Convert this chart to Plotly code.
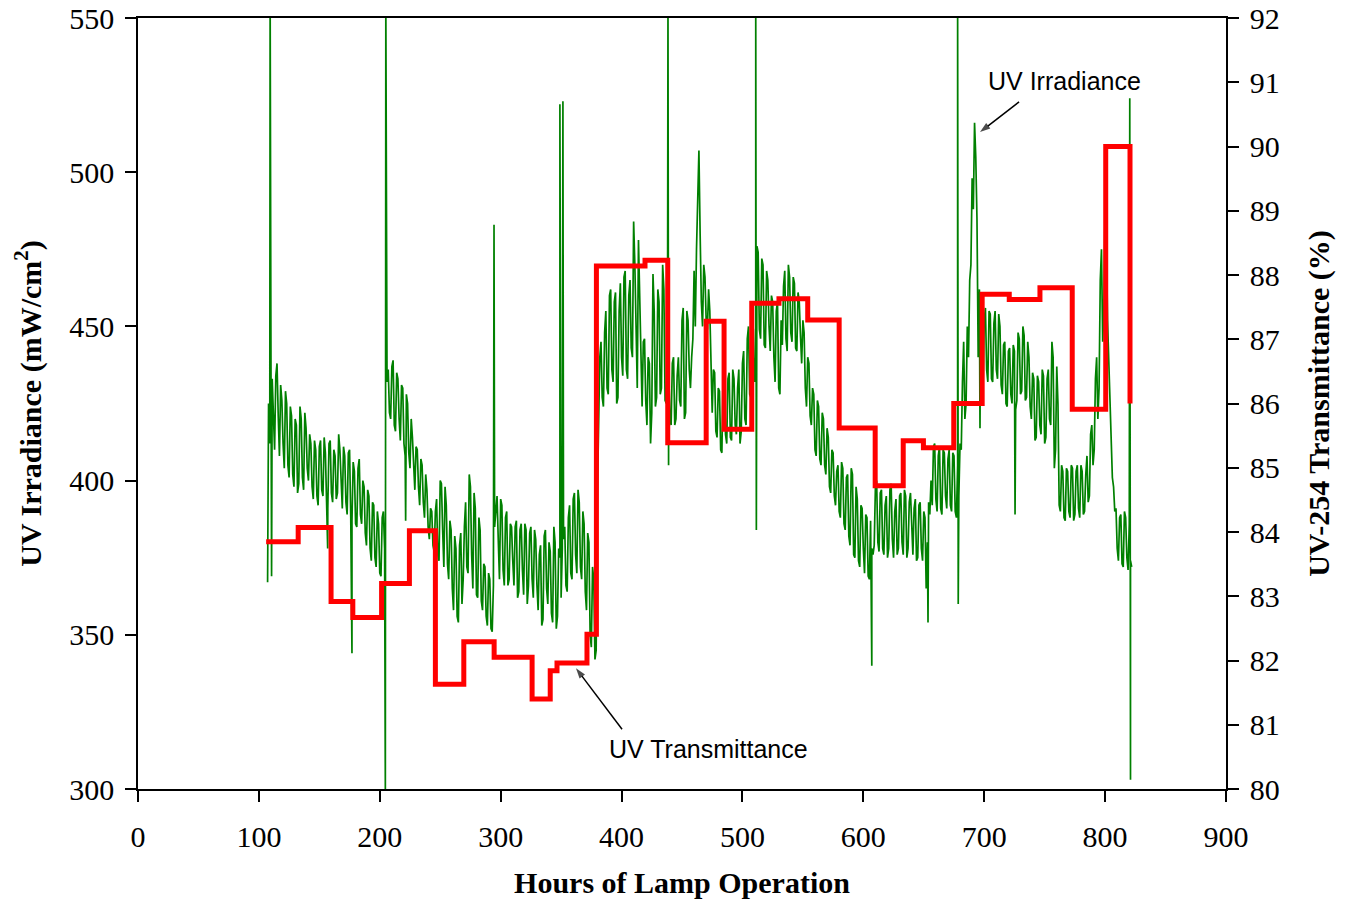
import plotly.graph_objects as go

# ---------------- data ----------------
# UV irradiance (mW/cm2) read at even hours, starting at 108 h
irr_even_start = 108
irradiance_even = [
    425, 437, 418, 434, 421, 431, 412, 429, 405, 424,   # 108-126
    402, 420, 396, 424, 401, 422, 404, 415, 398, 413,   # 128-146
    395, 411, 397, 414, 393, 412, 396, 410, 394, 415,   # 148-166
    397, 411, 393, 409, 388, 406, 386, 404, 389, 400,   # 168-186
    383, 397, 378, 393, 375, 390, 370, 388, 378, 432,   # 188-206
    422, 437, 418, 435, 420, 431, 412, 428, 409, 420,   # 208-226
    404, 411, 398, 407, 393, 402, 385, 391, 379, 390,   # 228-246
    376, 400, 384, 398, 373, 387, 365, 382, 356, 379,   # 248-266
    360, 385, 372, 402, 376, 396, 363, 388, 361, 373,   # 268-286
    356, 370, 352, 366, 390, 381, 394, 371, 388, 366,   # 288-306
    386, 374, 385, 362, 384, 371, 386, 360, 383, 368,   # 308-326
    384, 366, 376, 353, 382, 365, 380, 357, 385, 352,   # 328-346
    378, 362, 381, 366, 388, 370, 394, 376, 397, 372,   # 348-366
    390, 364, 383, 350, 372, 342, 395, 440, 427, 448,   # 368-386
    430, 460, 436, 458, 425, 455, 440, 466, 436, 460,   # 388-406
    443, 484, 448, 478, 435, 445, 426, 440, 412, 467,   # 408-426
    424, 462, 428, 470, 426, 440, 420, 438, 418, 434,   # 428-446
    426, 452, 420, 455, 436, 440, 468, 475, 507, 458,   # 448-466
    470, 452, 462, 432, 436, 416, 430, 410, 435, 415,   # 468-486
    433, 414, 436, 418, 430, 412, 438, 420, 446, 428,   # 488-506
    452, 432, 476, 449, 472, 444, 468, 450, 460, 440,   # 508-526
    455, 430, 452, 463, 446, 470, 448, 466, 443, 461,   # 528-546
    447, 452, 430, 440, 421, 430, 410, 426, 407, 422,   # 548-566
    405, 417, 398, 410, 395, 403, 390, 406, 386, 401,   # 568-586
    382, 404, 376, 398, 374, 392, 378, 389, 369, 387,   # 588-606
    376, 398, 380, 396, 378, 392, 375, 397, 381, 390,   # 608-626
    376, 395, 380, 397, 375, 393, 383, 391, 374, 392,   # 628-646
    378, 390, 365, 393, 400, 411, 394, 408, 391, 410,   # 648-666
    395, 407, 392, 409, 390, 405, 412, 432, 420, 450,   # 668-686
    465, 498, 516, 485, 462, 432, 452, 436, 455, 433,   # 688-706
    451, 436, 454, 431, 444, 425, 442, 428, 444, 423,   # 708-726
    448, 428, 450, 426, 445, 424, 435, 413, 434, 418,   # 728-746
    436, 412, 433, 420, 445, 404, 437, 392, 405, 388,   # 748-766
    404, 390, 405, 387, 403, 391, 405, 389, 402, 393,   # 768-786
    415, 405, 433, 420, 465, 445, 490, 452, 425, 401,   # 788-806
    390, 378, 388, 373, 390, 375, 386, 372,             # 808-822
]

# UV irradiance (mW/cm2) read at odd hours, starting at 109 h
irr_odd_start = 109
irradiance_odd = [
    412, 433, 410, 438, 408, 426, 404, 425, 401, 421,   # 109-127
    398, 418, 399, 420, 397, 417, 400, 412, 394, 410,   # 129-147
    392, 413, 395, 409, 391, 413, 393, 408, 396, 410,   # 149-167
    391, 408, 389, 410, 387, 403, 385, 407, 386, 398,   # 169-187
    379, 395, 374, 392, 372, 386, 369, 390, 425, 436,   # 189-207
    420, 439, 416, 433, 413, 430, 408, 425, 404, 414,   # 209-227
    397, 410, 392, 405, 388, 397, 381, 390, 377, 394,   # 229-247
    374, 399, 372, 392, 368, 384, 358, 378, 354, 383,   # 249-267
    368, 393, 370, 398, 365, 391, 362, 384, 358, 372,   # 269-287
    353, 368, 351, 385, 395, 368, 392, 366, 390, 368,   # 289-307
    385, 366, 387, 364, 386, 363, 384, 366, 385, 362,   # 309-327
    381, 358, 379, 355, 384, 360, 377, 354, 380, 356,   # 329-347
    375, 378, 385, 364, 392, 368, 396, 370, 393, 368,   # 349-367
    386, 358, 380, 346, 368, 345, 425, 445, 424, 455,   # 369-387
    428, 462, 432, 461, 427, 464, 434, 468, 433, 465,   # 389-407
    440, 470, 430, 460, 424, 446, 418, 438, 422, 455,   # 409-427
    427, 458, 430, 462, 425, 436, 418, 440, 420, 440,   # 429-447
    424, 456, 422, 452, 430, 446, 450, 490, 480, 450,   # 449-467
    466, 449, 455, 422, 435, 414, 429, 409, 434, 412,   # 469-487
    435, 413, 433, 415, 436, 416, 442, 418, 450, 427,   # 489-507
    449, 440, 474, 446, 470, 443, 465, 442, 458, 432,   # 509-527
    458, 428, 444, 468, 442, 466, 445, 464, 442, 458,   # 529-547
    438, 448, 424, 438, 418, 428, 408, 424, 405, 420,   # 549-567
    402, 414, 396, 409, 392, 405, 388, 404, 384, 402,   # 569-587
    379, 402, 375, 394, 372, 391, 370, 388, 368, 378,   # 589-607
    379, 400, 377, 397, 376, 395, 378, 399, 375, 394,   # 609-627
    378, 396, 376, 395, 378, 396, 376, 394, 375, 393,   # 629-647
    374, 388, 380, 389, 392, 412, 390, 411, 389, 409,   # 649-667
    391, 410, 390, 408, 388, 395, 410, 445, 425, 440,   # 669-687
    470, 488, 505, 440, 455, 430, 456, 432, 454, 432,   # 689-707
    455, 433, 450, 428, 445, 424, 443, 425, 442, 426,   # 709-727
    446, 429, 447, 427, 440, 420, 433, 414, 432, 415,   # 729-747
    434, 414, 436, 418, 440, 410, 425, 390, 403, 387,   # 749-767
    403, 388, 404, 389, 405, 388, 403, 390, 408, 395,   # 769-787
    418, 410, 440, 430, 475, 455, 480, 440, 415, 398,   # 789-807
    391, 374, 389, 372, 388, 371, 374,                  # 809-821
]

# isolated single-sample spikes (hour, value)
spike_hours = [107.2, 109.3, 110.5, 156.9, 177.0, 204.6, 205.0, 221.4,
               294.5, 349.0, 351.5, 438.4, 438.9, 511.0, 511.5, 607.0,
               653.5, 678.0, 678.5, 696.5, 725.5, 820.4, 821.0]
spike_values = [367, 560, 369, 378, 344, 299, 556, 387,
                483, 522, 523, 556, 405, 556, 384, 340,
                354, 556, 360, 417, 389, 524, 303]

# UV-254 transmittance (%) step changes: hour at which each level starts
trans_hours = [106, 132.5, 159.7, 177.7, 201.5, 224.5, 246, 269.5, 294.6, 326,
               341, 346.6, 371.4, 379.2, 419.4, 438.2, 470, 484.8, 507.7, 530.2,
               554, 580, 609.8, 633, 649.7, 674.8, 698.3, 720.7, 746.1, 772.8,
               800.5, 820.6]
trans_values = [83.85, 84.07, 82.92, 82.67, 83.20, 84.02, 81.63, 82.29, 82.05, 81.40,
                81.84, 81.96, 82.41, 88.14, 88.23, 85.39, 87.28, 85.60, 87.56, 87.63,
                87.30, 85.62, 84.72, 85.42, 85.31, 86.00, 87.70, 87.62, 87.80, 85.91,
                90.00, 86.00]

x_ticks = [0, 100, 200, 300, 400, 500, 600, 700, 800, 900]
y_ticks = [300, 350, 400, 450, 500, 550]
y2_ticks = list(range(80, 93))

# callout arrows (tail -> head) and their labels
irr_arrow_x = [728.8, 696.5]
irr_arrow_y = [522.8, 513.0]
trans_arrow_x = [400.4, 362.3]
trans_arrow_y = [80.93, 81.88]

# ---------------- build ----------------
even_hours = [irr_even_start + 2 * i for i in range(len(irradiance_even))]
odd_hours = [irr_odd_start + 2 * i for i in range(len(irradiance_odd))]
pts = sorted(list(zip(even_hours, irradiance_even))
             + list(zip(odd_hours, irradiance_odd))
             + list(zip(spike_hours, spike_values)))
irr_x = [p[0] for p in pts]
irr_y = [p[1] for p in pts]

SERIF = "Liberation Serif, Times New Roman, serif"
SANS = "Liberation Sans, Arial, sans-serif"

fig = go.Figure()
fig.add_trace(go.Scatter(x=irr_x, y=irr_y, mode="lines",
                         line=dict(color="#008000", width=1.7),
                         showlegend=False, hoverinfo="skip"))
fig.add_trace(go.Scatter(x=trans_hours, y=trans_values, mode="lines",
                         line=dict(color="#FF0000", width=5, shape="hv"),
                         yaxis="y2", showlegend=False, hoverinfo="skip"))

arrow_marker = dict(symbol="arrow", size=[0, 11], angleref="previous",
                    color="black", line=dict(width=0))
fig.add_trace(go.Scatter(x=irr_arrow_x, y=irr_arrow_y, mode="lines+markers",
                         line=dict(color="black", width=1.5),
                         marker=arrow_marker, showlegend=False, hoverinfo="skip"))
fig.add_trace(go.Scatter(x=trans_arrow_x, y=trans_arrow_y, mode="lines+markers",
                         line=dict(color="black", width=1.5), yaxis="y2",
                         marker=arrow_marker, showlegend=False, hoverinfo="skip"))

axis_common = dict(showline=True, linecolor="black", linewidth=1.5,
                   ticks="outside", ticklen=11, tickwidth=1.5, tickcolor="black",
                   showgrid=False, zeroline=False, automargin=False,
                   tickfont=dict(family=SERIF, size=30, color="black"))

fig.update_layout(
    width=1349, height=905,
    margin=dict(l=138, r=123, t=18, b=116),
    paper_bgcolor="white", plot_bgcolor="white",
    xaxis=dict(range=[0, 900], tickvals=x_ticks, mirror=True, ticklabelstandoff=9,
               title=dict(text="<b>Hours of Lamp Operation</b>",
                          font=dict(family=SERIF, size=30, color="black"),
                          standoff=20),
               **axis_common),
    yaxis=dict(range=[300, 550], tickvals=y_ticks, ticklabelstandoff=5,
               title=dict(text="<b>UV Irradiance (mW/cm<sup>2</sup>)</b>",
                          font=dict(family=SERIF, size=30, color="black"),
                          standoff=19),
               **axis_common),
    yaxis2=dict(range=[80, 92], tickvals=y2_ticks, overlaying="y", side="right",
                ticklabelstandoff=5,
                title=dict(text="<b>UV-254 Transmittance (%)</b>",
                           font=dict(family=SERIF, size=30, color="black"),
                           standoff=29),
                **axis_common),
)

fig.add_annotation(x=766.8, y=529.6, xref="x", yref="y", showarrow=False,
                   text="UV Irradiance", font=dict(family=SANS, size=25, color="black"))
fig.add_annotation(x=472.3, y=80.62, xref="x", yref="y2", showarrow=False,
                   text="UV Transmittance", font=dict(family=SANS, size=25, color="black"))

fig.write_html("out.html")
